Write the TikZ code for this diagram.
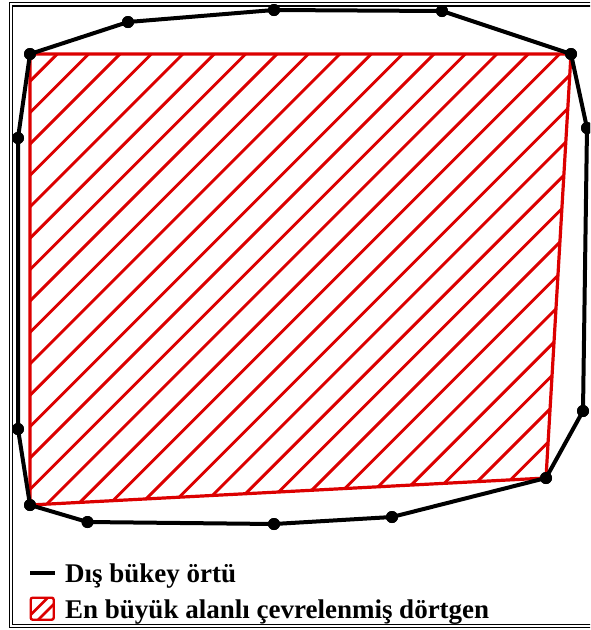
\documentclass[tikz,border=0pt]{standalone}
\usepackage{fontspec}
\setmainfont{Liberation Serif}
\definecolor{hatchred}{RGB}{220,0,0}
\tikzset{
  hull/.style={line width=4pt, line join=round},
  dot/.style={circle, fill=black, inner sep=0pt, minimum size=12pt},
  quadedge/.style={draw=hatchred, line width=3.2pt, line join=round},
  hatchline/.style={draw=hatchred, line width=2.9pt},
  frameline/.style={line width=1.4pt},
  legtext/.style={anchor=base west, inner sep=0pt, font=\fontsize{27}{30}\selectfont\bfseries}
}
\begin{document}
\begin{tikzpicture}[x=1pt, y=-1pt]
\useasboundingbox (0,0) rectangle (590,630);
\clip (0,0) rectangle (590,630);
\fill[white] (0,0) rectangle (590,630);
% frame
\draw[frameline] (9.7,2.7) rectangle (610,627.6);
\draw[frameline, line width=1.2pt] (12.4,6) rectangle (605,624.3);
% hull points
\node[dot] (h1) at (30,54) {};
\node[dot] (h2) at (128,22) {};
\node[dot] (h3) at (274,10) {};
\node[dot] (h4) at (442,11) {};
\node[dot] (h5) at (571,54) {};
\node[dot] (h6) at (587,128) {};
\node[dot] (h7) at (583,411) {};
\node[dot] (h8) at (546,478) {};
\node[dot] (h9) at (392,517) {};
\node[dot] (h10) at (274,524) {};
\node[dot] (h11) at (87.5,522) {};
\node[dot] (h12) at (30,505) {};
\node[dot] (h13) at (18,429) {};
\node[dot] (h14) at (18,138) {};
% hatched quadrilateral
\begin{scope}
  \clip (h1.center) -- (h5.center) -- (h8.center) -- (h12.center) -- cycle;
  \foreach \k in {-3,...,32} {
    \pgfmathsetmacro{\c}{111.2+31.4*\k}
    \draw[hatchline] (\c,0) -- ({\c-700},700);
  }
\end{scope}
\draw[quadedge] (h1.center) -- (h5.center) -- (h8.center) -- (h12.center) -- cycle;
% hull
\draw[hull] (h1.center) -- (h2.center) -- (h3.center) -- (h4.center) -- (h5.center)
  -- (h6.center) -- (h7.center) -- (h8.center) -- (h9.center) -- (h10.center)
  -- (h11.center) -- (h12.center) -- (h13.center) -- (h14.center) -- cycle;
\foreach \i in {1,...,14} \fill (h\i) circle (6);
% legend
\coordinate (l1a) at (30,573);
\coordinate (l1b) at (55,573);
\draw[line width=4.5pt] (l1a) -- (l1b);
\node[legtext] (t1) at (65,582) {Dış bükey örtü};
\begin{scope}
  \clip[rounded corners=2pt] (30.5,597.5) rectangle (54,620);
  \draw[hatchline, line width=2.6pt] (645.5,0) -- (0,645.5);
  \draw[hatchline, line width=2.6pt] (658,0) -- (0,658);
\end{scope}
\node[draw=hatchred, line width=2.4pt, rounded corners=2pt, minimum width=23pt, minimum height=22pt, inner sep=0pt] (sw) at (42.2,608.7) {};
\node[legtext] (t2) at (65,618) {En büyük alanlı çevrelenmiş dörtgen};
\end{tikzpicture}
\end{document}
